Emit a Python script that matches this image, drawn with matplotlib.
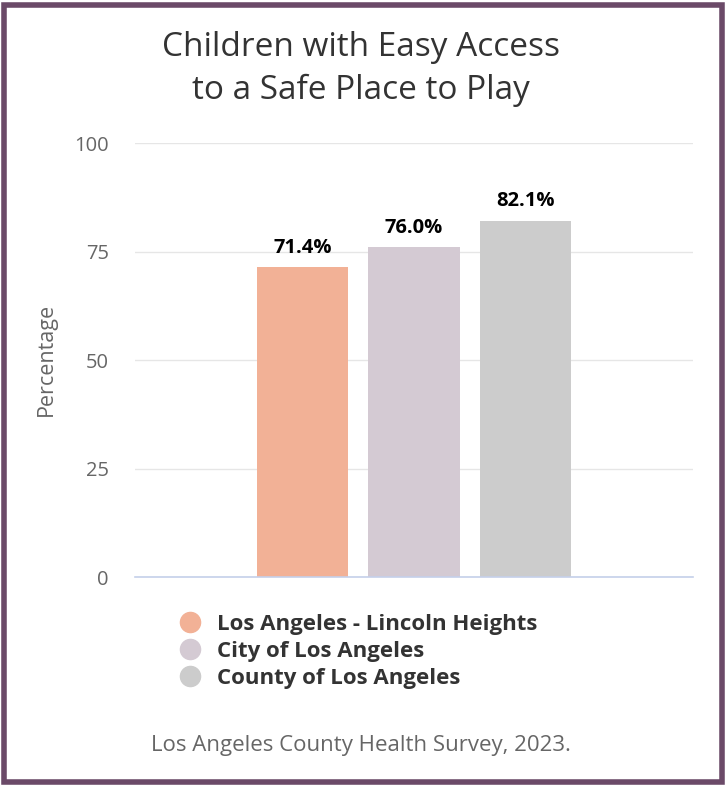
import matplotlib.pyplot as plt
from matplotlib.lines import Line2D
from matplotlib.patches import Rectangle

# data
areas = ['Los Angeles - Lincoln Heights', 'City of Los Angeles', 'County of Los Angeles']
values = [71.4, 76.0, 82.1]
colors = ['#f2b196', '#d4cad3', '#cccccc']
yticks = [0, 25, 50, 75, 100]

plt.rcParams['font.family'] = ['Open Sans', 'DejaVu Sans']

fig = plt.figure(figsize=(7.26, 7.86), dpi=100)
ax = fig.add_axes([0.186, 0.2659, 0.7685, 0.5521])

x = list(range(len(values)))
ax.bar(x, values, width=0.816, color=colors, zorder=2)
for xi, v in zip(x, values):
    ax.text(xi, v + 2.2, f'{v:.1f}%', ha='center', va='bottom',
            fontsize=14.5, fontweight='bold', color='#000000')

ax.set_xlim(-1.5, 3.5)
ax.set_ylim(0, 100)
ax.set_yticks(yticks)
ax.set_xticks([])
ax.tick_params(axis='y', length=0, labelsize=14.5, labelcolor='#666666', pad=19)
ax.grid(axis='y', color='#e6e6e6', linewidth=1, zorder=0)
for s in ['top', 'right', 'left']:
    ax.spines[s].set_visible(False)
ax.spines['bottom'].set_color('#c5d0ea')
ax.spines['bottom'].set_linewidth(1.2)
ax.spines['bottom'].set_zorder(3)
ax.set_ylabel('Percentage', fontsize=15.5, color='#666666')
ax.yaxis.set_label_coords(-0.14, 0.502)

fig.text(0.497, 0.912, 'Children with Easy Access\nto a Safe Place to Play',
         ha='center', va='center', fontsize=24, color='#333333', linespacing=1.38)

handles = [Line2D([], [], marker='o', linestyle='none', markersize=14.5,
                  markerfacecolor=c, markeredgecolor=c) for c in colors]
fig.legend(handles, areas, loc='center left', bbox_to_anchor=(0.2466, 0.1715),
           frameon=False, handlelength=1.0, handletextpad=0.7, labelspacing=0.27,
           borderpad=0, borderaxespad=0,
           prop={'size': 16, 'weight': 'bold'}, labelcolor='#333333')

fig.text(0.497, 0.052, 'Los Angeles County Health Survey, 2023.',
         ha='center', va='center', fontsize=16, color='#666666')

fig.patches.append(Rectangle((0.0055, 0.0045), 0.989, 0.989, transform=fig.transFigure,
                             fill=False, edgecolor='#6b4a68', linewidth=4))

fig.savefig('out.png', dpi=100)
